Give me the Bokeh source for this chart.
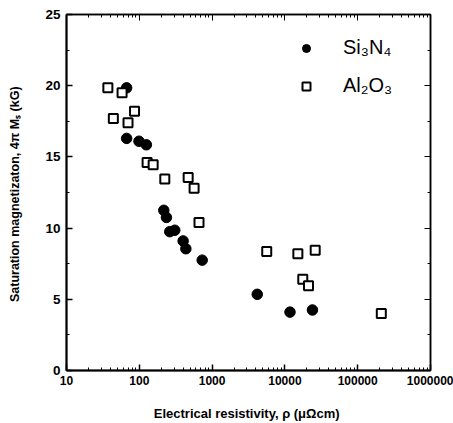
from bokeh.plotting import figure
from bokeh.models import (Range1d, FixedTicker, LogAxis, LinearAxis, Legend,
                          LegendItem, NumeralTickFormatter)
from bokeh.embed import file_html
from bokeh.resources import INLINE

# ---- data ----
si_x = [67, 67, 99, 125, 217, 236, 262, 307, 400, 436, 731, 4170, 11750, 23900]
si_y = [19.85, 16.3, 16.1, 15.85, 11.25, 10.75, 9.75, 9.85, 9.1, 8.55, 7.75, 5.35, 4.1, 4.25]

al_x = [37, 58, 86, 44, 70, 128, 155, 224, 469, 566, 661, 5630, 15070, 26070, 17600, 21100, 211000]
al_y = [19.85, 19.5, 18.2, 17.7, 17.4, 14.6, 14.45, 13.45, 13.55, 12.8, 10.4, 8.35, 8.2, 8.45, 6.4, 5.95, 4.0]

x_ticks = [10, 100, 1000, 10000, 100000, 1000000]
x_tick_labels = ["10", "100", "1000", "10000", "100000", "1000000"]
y_ticks = [0, 5, 10, 15, 20, 25]
y_minor = [2.5, 7.5, 12.5, 17.5, 22.5]

series_labels = ["Si\u2083N\u2084", "Al\u2082O\u2083"]
x_label = "Electrical resistivity,  \u03c1 (\u03bc\u03a9cm)"
y_label = "Saturation magnetizaton,  4\u03c0 M\u209b (kG)"

FONT = "Liberation Sans"

x_minor = [k * d for d in x_ticks[:-1] for k in range(2, 10)]

p = figure(width=453, height=423, x_axis_type="log",
           x_range=Range1d(10, 1000000), y_range=Range1d(0, 25),
           output_backend="svg", toolbar_location=None,
           min_border_left=66, min_border_right=23, min_border_top=14,
           min_border_bottom=52)
p.xgrid.visible = False
p.ygrid.visible = False
p.outline_line_color = "black"
p.outline_line_width = 1.5
p.background_fill_color = "white"
p.border_fill_color = "white"

xt = FixedTicker(ticks=x_ticks, minor_ticks=x_minor)
yt = FixedTicker(ticks=y_ticks, minor_ticks=y_minor)

xa = p.xaxis[0]
xa.ticker = xt
xa.formatter = NumeralTickFormatter(format="0")
xa.major_label_overrides = {v: s for v, s in zip(x_ticks, x_tick_labels)}
ya = p.yaxis[0]
ya.ticker = yt

for ax in (xa, ya):
    ax.axis_line_color = "black"
    ax.axis_line_width = 2
    ax.major_tick_in = 6
    ax.major_tick_out = 0
    ax.minor_tick_in = 3
    ax.minor_tick_out = 0
    ax.major_tick_line_width = 1.5
    ax.minor_tick_line_width = 1
    ax.major_tick_line_color = "black"
    ax.minor_tick_line_color = "black"
    ax.major_label_text_font = FONT
    ax.major_label_text_font_style = "bold"
    ax.major_label_text_color = "black"
    ax.axis_label_text_font = FONT
    ax.axis_label_text_font_style = "bold"
    ax.axis_label_text_color = "black"

xa.major_label_text_font_size = "12px"
xa.major_label_standoff = 5
xa.axis_label = x_label
xa.axis_label_text_font_size = "13px"
xa.axis_label_standoff = 18

ya.major_label_text_font_size = "13.5px"
ya.major_label_standoff = 6
ya.axis_label = y_label
ya.axis_label_text_font_size = "12.5px"
ya.axis_label_standoff = 20

top = LogAxis(ticker=xt)
right = LinearAxis(ticker=yt)
for ax in (top, right):
    ax.axis_line_color = "black"
    ax.axis_line_width = 1.5
    ax.major_tick_in = 6
    ax.major_tick_out = 0
    ax.minor_tick_in = 3
    ax.minor_tick_out = 0
    ax.major_tick_line_color = "black"
    ax.minor_tick_line_color = "black"
    ax.major_label_text_font_size = "1px"
    ax.major_label_text_color = None
    ax.major_label_standoff = 0
p.add_layout(top, "above")
p.add_layout(right, "right")

r_si = p.scatter(si_x, si_y, marker="circle", size=10.5,
                 fill_color="black", line_color="black")
r_al = p.scatter(al_x, al_y, marker="square", size=9,
                 fill_color="white", line_color="black", line_width=2)

legend = Legend(items=[LegendItem(label=series_labels[0], renderers=[r_si]),
                       LegendItem(label=series_labels[1], renderers=[r_al])],
                location=(230, 273), border_line_color=None,
                background_fill_alpha=0, padding=0, margin=0, spacing=15,
                glyph_width=20, glyph_height=20, label_height=20,
                label_standoff=27, label_text_font_size="20px",
                label_text_font=FONT, label_text_color="black")
p.add_layout(legend)

open("out.html", "w").write(file_html(p, INLINE))
